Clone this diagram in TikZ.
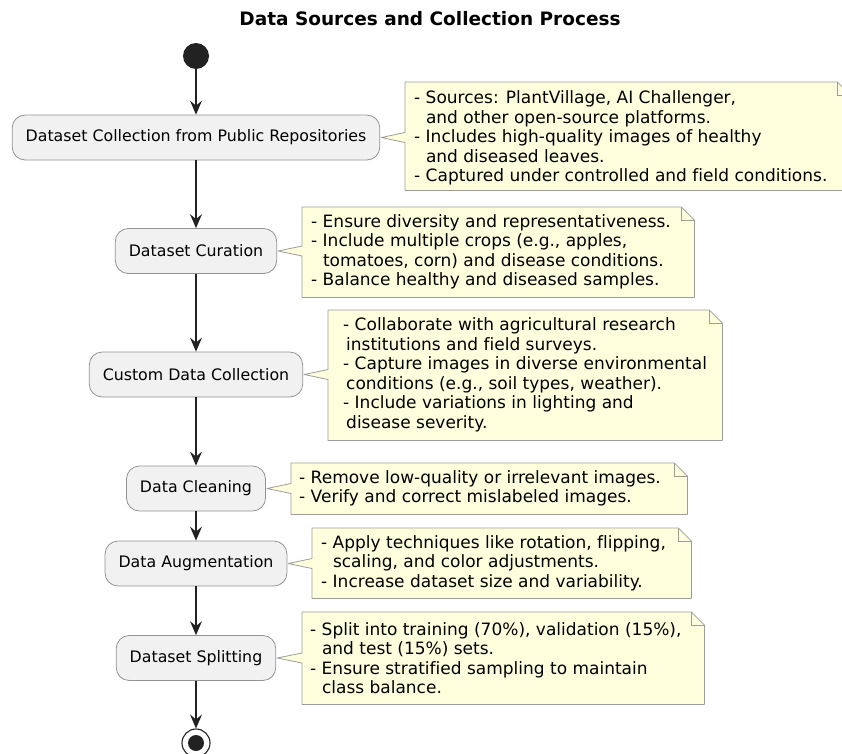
\documentclass[tikz,border=0pt]{standalone}
\usepackage{fontspec}
\setmainfont{DejaVu Sans}[Ligatures=NoCommon]
\usetikzlibrary{arrows.meta,calc}

\definecolor{actfill}{HTML}{F1F1F1}
\definecolor{actline}{HTML}{939393}
\definecolor{notefill}{HTML}{FEFFDD}
\definecolor{noteline}{HTML}{9C9C9C}
\definecolor{flowline}{HTML}{222222}

\newcommand{\noteindent}{\hspace*{11.8pt}}

\tikzset{
  activity/.style={rectangle, rounded corners=13pt, draw=actline, fill=actfill,
    line width=0.8pt, minimum height=45pt, inner xsep=13.5pt,
    font=\fontsize{15.8}{19}\selectfont},
  notebody/.style={rectangle, inner sep=0pt, anchor=north west},
  notetext/.style={anchor=west, align=left, inner sep=0pt,
    font=\fontsize{17}{19.5}\selectfont},
  noteshape/.style={draw=noteline, fill=notefill, line width=0.8pt, line join=round},
  flow/.style={draw=flowline, line width=1.1pt,
    -{Stealth[length=14pt,width=12pt,inset=5pt]}},
}

\begin{document}
\begin{tikzpicture}[x=1pt, y=-1pt]
  \useasboundingbox (0,0) rectangle (842,753);
  \clip (0,0) rectangle (842,753);

  % title
  \node[font=\bfseries\fontsize{18.5}{22}\selectfont] (title) at (430,19)
    {Data Sources and Collection Process};

  % start / activities / stop
  \node[circle, fill=flowline, minimum size=26pt, inner sep=0pt] (start) at (196,56) {};
  \node[activity] (a1) at (196,137.5) {Dataset Collection from Public Repositories};
  \node[activity] (a2) at (196,251) {Dataset Curation};
  \node[activity] (a3) at (196,374.5) {Custom Data Collection};
  \node[activity] (a4) at (196,488.5) {Data Cleaning};
  \node[activity] (a5) at (196,563.5) {Data Augmentation};
  \node[activity] (a6) at (196,658) {Dataset Splitting};
  \node[circle, draw=flowline, line width=1.1pt, fill=white, minimum size=28pt,
    inner sep=0pt] (stop) at (196,743) {};
  \node[circle, fill=flowline, minimum size=16pt, inner sep=0pt] (stopdot) at (stop.center) {};

  \draw[flow] (start.south) -- (a1.north);
  \draw[flow] (a1.south) -- (a2.north);
  \draw[flow] (a2.south) -- (a3.north);
  \draw[flow] (a3.south) -- (a4.north);
  \draw[flow] (a4.south) -- (a5.north);
  \draw[flow] (a5.south) -- (a6.north);
  \draw[flow] (a6.south) -- (stop.north);

  % note bodies
  \node[notebody, minimum width=445pt, minimum height=108pt] (n1) at (405,82) {};
  \node[notebody, minimum width=392pt, minimum height=90pt] (n2) at (302,207) {};
  \node[notebody, minimum width=394pt, minimum height=130pt] (n3) at (328,310) {};
  \node[notebody, minimum width=396pt, minimum height=51pt] (n4) at (291,463) {};
  \node[notebody, minimum width=379pt, minimum height=70pt] (n5) at (312,528) {};
  \node[notebody, minimum width=402pt, minimum height=92pt] (n6) at (302,612) {};

  \foreach \i in {1,...,6}{
    \draw[noteshape] (n\i.north west) -- ([xshift=-13pt]n\i.north east)
      -- ([yshift=-13pt]n\i.north east) -- (n\i.south east) -- (n\i.south west)
      -- ($(n\i.west |- a\i.east)+(0,5)$) -- ([xshift=1pt]a\i.east)
      -- ($(n\i.west |- a\i.east)+(0,-5)$) -- cycle;
    \draw[draw=noteline, line width=0.8pt] ([xshift=-13pt]n\i.north east)
      -- ([xshift=-13pt,yshift=-13pt]n\i.north east) -- ([yshift=-13pt]n\i.north east);
  }

  % note texts
  \node[notetext] (t1) at (414,138) {- Sources: PlantVillage, AI Challenger,\\
    \noteindent and other open-source platforms.\\
    - Includes high-quality images of healthy\\
    \noteindent and diseased leaves.\\
    - Captured under controlled and field conditions.};
  \node[notetext] (t2) at (311,252) {- Ensure diversity and representativeness.\\
    - Include multiple crops (e.g., apples,\\
    \noteindent tomatoes, corn) and disease conditions.\\
    - Balance healthy and diseased samples.};
  \node[notetext] (t3) at (343,375) {- Collaborate with agricultural research\\
    \hspace*{3pt}institutions and field surveys.\\
    - Capture images in diverse environmental\\
    \hspace*{3pt}conditions (e.g., soil types, weather).\\
    - Include variations in lighting and\\
    \hspace*{3pt}disease severity.};
  \node[notetext] (t4) at (299,488.5) {- Remove low-quality or irrelevant images.\\
    - Verify and correct mislabeled images.};
  \node[notetext] (t5) at (321,563) {- Apply techniques like rotation, flipping,\\
    \noteindent scaling, and color adjustments.\\
    - Increase dataset size and variability.};
  \node[notetext] (t6) at (310,658) {- Split into training (70\%), validation (15\%),\\
    \noteindent and test (15\%) sets.\\
    - Ensure stratified sampling to maintain\\
    \noteindent class balance.};
\end{tikzpicture}
\end{document}
